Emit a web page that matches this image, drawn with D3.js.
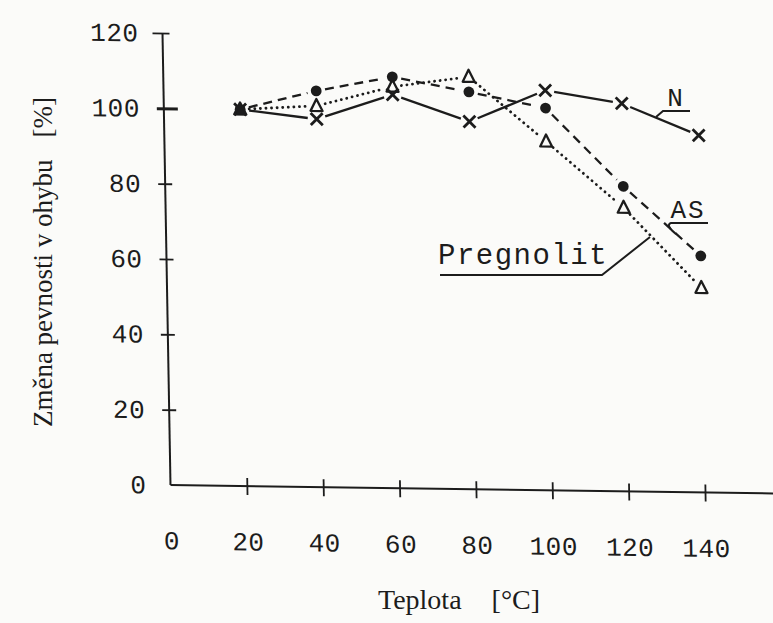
<!DOCTYPE html>
<html><head><meta charset="utf-8">
<script src="https://cdn.jsdelivr.net/npm/d3@7"></script>
<style>html,body{margin:0;padding:0;background:#fbfbf9;} svg{display:block}</style>
</head><body><svg id="c" width="773" height="623"></svg>
<script>
// ---- data ----
const temps = [20, 40, 60, 80, 100, 120, 140];
const valuesN = [100, 97.7, 104.5, 97.6, 106.2, 103, 94.8];
const valuesAS = [100, 105.2, 109.2, 105.5, 101.5, 81, 62.8];
const valuesPregnolit = [100, 101.2, 106.6, 109.5, 92.6, 75.3, 54.3];
const xTickValues = [20, 40, 60, 80, 100, 120, 140];
const xTickLabels = ["0", "20", "40", "60", "80", "100", "120", "140"];
const yTickValues = [0, 20, 40, 60, 80, 100, 120];
const seriesNames = ["N", "AS", "Pregnolit"];
const xTitle = "Teplota";
const xUnit = "[°C]";
const yTitle = "Změna pevnosti v ohybu";
const yUnit = "[%]";

const ink = "#1c1c1c";
const svg = d3.select("#c");
svg.append("rect").attr("width", 773).attr("height", 623).attr("fill", "#fbfbf9");

const x = d3.scaleLinear().domain([0, 140]).range([170.5, 705]);
const y = d3.scaleLinear().domain([0, 120]).range([485, 33]);

// slight shear like the scanned original
const c = 0.0177, b = 0.014;
const g = svg.append("g")
  .attr("transform", `matrix(1,${b},${c},1,${-c * y(0)},${-b * x(0)})`);

const numFont = "'Liberation Mono', 'DejaVu Sans Mono', monospace";

// y axis
const yAxis = g.append("g").attr("transform", `translate(${x(0)},0)`)
  .call(d3.axisLeft(y).tickValues(yTickValues).tickFormat(d3.format("d")).tickSize(0).tickPadding(24));
yAxis.select(".domain").attr("stroke", ink).attr("stroke-width", 2).attr("d", `M0,${y(0)}V${y(120)}`);
yAxis.selectAll(".tick text").attr("font-family", numFont).attr("font-size", 26)
  .attr("letter-spacing", 0.5).attr("fill", ink);
yAxis.selectAll(".tick").filter(d => d > 0).append("line")
  .attr("x1", d => d === 120 ? -10 : -7)
  .attr("x2", d => d === 100 ? 14 : 7)
  .attr("stroke", ink).attr("stroke-width", d => d === 100 ? 3 : 1.8);

// x axis
const xAxis = g.append("g").attr("transform", `translate(0,${y(0)})`)
  .call(d3.axisBottom(x).tickValues([0].concat(xTickValues)).tickFormat((d, i) => xTickLabels[i]).tickSize(0).tickPadding(46));
xAxis.select(".domain").attr("stroke", ink).attr("stroke-width", 2).attr("d", `M${x(0)},0H790`);
xAxis.selectAll(".tick text").attr("font-family", numFont).attr("font-size", 26)
  .attr("letter-spacing", 0.5).attr("fill", ink);
xAxis.selectAll(".tick").filter(d => d > 0).append("line")
  .attr("y1", -8).attr("y2", 9).attr("stroke", ink).attr("stroke-width", 1.8);

// series
const series = [
  { name: seriesNames[0], values: valuesN, dash: null, marker: "x" },
  { name: seriesNames[1], values: valuesAS, dash: "9,6", marker: "circle" },
  { name: seriesNames[2], values: valuesPregnolit, dash: "0.1,5.5", marker: "triangle" }
];

const gap = 9;
series.forEach(s => {
  const pts = temps.map((t, i) => [x(t), y(s.values[i])]);
  const segs = d3.pairs(pts).map(([p, q]) => {
    const dx = q[0] - p[0], dy = q[1] - p[1], L = Math.hypot(dx, dy);
    const ux = dx / L, uy = dy / L;
    return [p[0] + ux * gap, p[1] + uy * gap, q[0] - ux * gap, q[1] - uy * gap];
  });
  g.append("g").selectAll("line").data(segs).join("line")
    .attr("x1", d => d[0]).attr("y1", d => d[1]).attr("x2", d => d[2]).attr("y2", d => d[3])
    .attr("stroke", ink)
    .attr("stroke-width", s.marker === "triangle" ? 2.8 : 2.3)
    .attr("stroke-linecap", s.marker === "triangle" ? "round" : "butt")
    .attr("stroke-dasharray", s.dash);

  const mg = g.append("g").selectAll("g").data(pts).join("g")
    .attr("transform", d => `translate(${d[0]},${d[1]})`);
  if (s.marker === "x") {
    mg.append("path").attr("d", "M-6,-6L6,6M6,-6L-6,6").attr("stroke", ink).attr("stroke-width", 2.8).attr("fill", "none");
  } else if (s.marker === "circle") {
    mg.append("circle").attr("r", 5.4).attr("fill", ink);
  } else {
    mg.append("path").attr("d", "M0,-7L6,5L-6,5Z").attr("stroke", ink).attr("stroke-width", 2.3).attr("fill", "none").attr("stroke-linejoin", "round");
  }
});

// annotations (labels with leaders)
const lab = svg.append("g").attr("fill", ink).attr("font-family", numFont);
lab.append("text").attr("x", 675).attr("y", 106).attr("text-anchor", "middle").attr("font-size", 26).text(seriesNames[0]);
lab.append("path").attr("d", "M690,111H663L656,117").attr("stroke", ink).attr("stroke-width", 2).attr("fill", "none");
lab.append("text").attr("x", 688).attr("y", 218).attr("text-anchor", "middle").attr("font-size", 26).attr("letter-spacing", 2).text(seriesNames[1]);
lab.append("path").attr("d", "M708,223H671Q665,225 676,234").attr("stroke", ink).attr("stroke-width", 2).attr("fill", "none");
lab.append("text").attr("x", 438).attr("y", 264).attr("font-size", 29).attr("letter-spacing", 1.5).text(seriesNames[2]);
lab.append("path").attr("d", "M440,275H602L650,237").attr("stroke", ink).attr("stroke-width", 2).attr("fill", "none");

// titles
const serif = "'Liberation Serif', 'DejaVu Serif', serif";
svg.append("text").attr("x", 378).attr("y", 609).attr("font-family", serif).attr("font-size", 28).attr("fill", ink)
  .text(xTitle).append("tspan").attr("dx", 30).text(xUnit);
svg.append("text").attr("transform", "translate(52,262) rotate(-90)").attr("text-anchor", "middle")
  .attr("font-family", serif).attr("font-size", 27).attr("fill", ink)
  .text(yTitle).append("tspan").attr("dx", 22).text(yUnit);
</script></body></html>
